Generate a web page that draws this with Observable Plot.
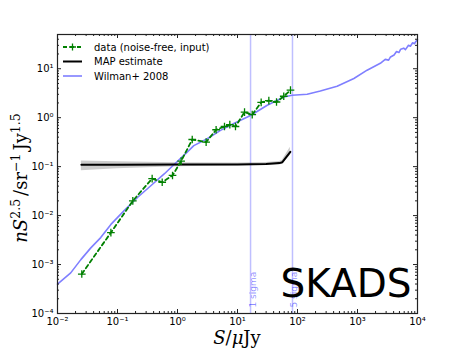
<!DOCTYPE html>
<html><head><meta charset="utf-8">
<script src="https://cdn.jsdelivr.net/npm/d3@7"></script>
<script src="https://cdn.jsdelivr.net/npm/@observablehq/plot@0.6"></script>
<style>body{margin:0;background:#fff} #chart{width:463px;height:348px}</style>
</head><body><div id="chart"></div>
<script>
// ---- data ----
const dataS = [0.0254, 0.0776, 0.18, 0.378, 0.556, 0.826, 1.15, 1.76, 3.0, 4.4, 6.07, 7.45, 9.26, 13.1, 17.6, 24.8, 33.3, 44.7, 59, 76.4];
const dataY = [6.4e-4, 4.5e-3, 0.020, 0.057, 0.048, 0.066, 0.13, 0.358, 0.316, 0.567, 0.66, 0.72, 0.66, 1.30, 1.15, 2.06, 2.23, 2.09, 2.74, 3.64];

const mapS  = [0.025, 0.1, 1, 10, 30, 50, 56, 76];
const mapY  = [0.109, 0.109, 0.110, 0.111, 0.113, 0.118, 0.123, 0.20];
const mapLo = [0.082, 0.091, 0.100, 0.104, 0.105, 0.108, 0.112, 0.17];
const mapHi = [0.131, 0.126, 0.120, 0.118, 0.121, 0.128, 0.135, 0.25];

const wilmanS = [0.01, 0.0166, 0.0245, 0.0359, 0.0525, 0.0776, 0.129, 0.215, 0.359, 0.600, 1.0, 1.38, 1.87, 3.13, 5.21, 8.67, 16.5, 31.3, 59.2, 81.3, 145, 240, 457, 871, 1445, 2400, 2900, 3300, 3550, 4070, 4470, 4900, 5250, 5890, 6300, 7080, 7600, 8300, 8900, 9400, 10000];
const wilmanY = [3.98e-4, 6.76e-4, 1.26e-3, 2.19e-3, 3.55e-3, 6.61e-3, 0.0126, 0.0234, 0.0407, 0.0708, 0.129, 0.186, 0.269, 0.372, 0.550, 0.759, 1.11, 1.79, 2.65, 2.87, 3.01, 3.52, 4.40, 6.31, 9.33, 12.9, 15.5, 15.0, 17.4, 19.1, 22.4, 21.4, 25.1, 26.3, 24.5, 30.2, 28.8, 33.9, 32.4, 36.3, 38.9];

const sigmaS = [16.5, 82.5];
const sigmaLabels = ["1 sigma", "5 sigma"];
const stampText = "SKADS";

const xTicks = [1e-2, 1e-1, 1, 10, 100, 1000, 10000];
const xTickLabels = ["10⁻²", "10⁻¹", "10⁰", "10¹", "10²", "10³", "10⁴"];
const yTicks = [1e-4, 1e-3, 1e-2, 1e-1, 1, 10];
const yTickLabels = ["10⁻⁴", "10⁻³", "10⁻²", "10⁻¹", "10⁰", "10¹"];

const legendLabels = ["data (noise-free, input)", "MAP estimate", "Wilman+ 2008"];

// ---- tables ----
const dataTable = dataS.map((s, i) => ({S: s, y: dataY[i]}));
const mapTable = mapS.map((s, i) => ({S: s, y: mapY[i], lo: mapLo[i], hi: mapHi[i]}));
const wilman = wilmanS.map((s, i) => ({S: s, y: wilmanY[i]}));

const xMinor = [], yMinor = [];
for (const d of xTicks.slice(0, -1)) for (let k = 2; k <= 9; k++) xMinor.push(d * k);
for (const d of yTicks) for (let k = 2; k <= 9; k++) if (d * k < 50) yMinor.push(d * k);

const W = 463, H = 348, mL = 57, mR = 46, mT = 34, mB = 35;
const pw = W - mL - mR, ph = H - mT - mB;
const green = "#008000", blue = "#7f7fff", axisC = "#222";

const plot = Plot.plot({
  width: W, height: H,
  marginLeft: mL, marginRight: mR, marginTop: mT, marginBottom: mB,
  x: {type: "log", domain: [1e-2, 1e4], axis: null},
  y: {type: "log", domain: [1e-4, 50], axis: null},
  style: {fontFamily: "DejaVu Sans", background: "white", overflow: "visible"},
  marks: [
    Plot.areaY(mapTable, {x: "S", y1: "lo", y2: "hi", fill: "#000", fillOpacity: 0.2}),
    Plot.ruleX(sigmaS, {stroke: "#0000ff", strokeOpacity: 0.25, strokeWidth: 1.5}),
    Plot.line(wilman, {x: "S", y: "y", stroke: blue, strokeWidth: 1.6}),
    Plot.line(mapTable, {x: "S", y: "y", stroke: "black", strokeWidth: 2}),
    Plot.line(dataTable, {x: "S", y: "y", stroke: green, strokeWidth: 1.8, strokeDasharray: "4,3"}),
    Plot.dot(dataTable, {x: "S", y: "y", symbol: "plus", r: 2.6, stroke: green, strokeWidth: 1.3}),
    Plot.text(sigmaS, {x: d => d, text: (d, i) => sigmaLabels[i], frameAnchor: "bottom", rotate: -90, textAnchor: "start", dx: 5, dy: -6, fontSize: 9, fill: "#0000ff", fillOpacity: 0.45}),
    Plot.text([stampText], {text: d => d, frameAnchor: "bottom-right", textAnchor: "end", dx: -6, dy: -17, fontSize: 39, fill: "black"}),
    Plot.frame({stroke: axisC, strokeWidth: 1.2}),
    // inward ticks, all sides
    Plot.ruleX(xTicks, {insetTop: ph - 4, stroke: axisC}),
    Plot.ruleX(xTicks, {insetBottom: ph - 4, stroke: axisC}),
    Plot.ruleX(xMinor, {insetTop: ph - 2, stroke: axisC}),
    Plot.ruleX(xMinor, {insetBottom: ph - 2, stroke: axisC}),
    Plot.ruleY(yTicks, {insetRight: pw - 4, stroke: axisC}),
    Plot.ruleY(yTicks, {insetLeft: pw - 4, stroke: axisC}),
    Plot.ruleY(yMinor, {insetRight: pw - 2, stroke: axisC}),
    Plot.ruleY(yMinor, {insetLeft: pw - 2, stroke: axisC}),
    // tick labels
    Plot.text(xTicks, {x: d => d, text: (d, i) => xTickLabels[i], frameAnchor: "bottom", lineAnchor: "top", dy: 4, fontSize: 10, fill: "black"}),
    Plot.text(yTicks, {y: d => d, text: (d, i) => yTickLabels[i], frameAnchor: "left", textAnchor: "end", dx: -4, fontSize: 10, fill: "black"})
  ]
});
document.getElementById("chart").appendChild(plot);

const svg = d3.select(plot);
// y label
const yl = svg.append("text")
  .attr("transform", "translate(27,178) rotate(-90)")
  .attr("text-anchor", "middle")
  .attr("font-family", "DejaVu Serif").attr("font-size", 18).attr("fill", "black");
yl.append("tspan").attr("font-style", "italic").text("nS");
yl.append("tspan").attr("font-size", 12.5).attr("dy", -7).text("2.5");
yl.append("tspan").attr("dy", 7).attr("dx", 3).text("/sr");
yl.append("tspan").attr("font-size", 12.5).attr("dy", -7).text("−1");
yl.append("tspan").attr("dy", 7).attr("dx", 3).text("Jy");
yl.append("tspan").attr("font-size", 12.5).attr("dy", -7).text("1.5");
// x label
const xl = svg.append("text")
  .attr("x", mL + pw / 2).attr("y", 344)
  .attr("text-anchor", "middle")
  .attr("font-family", "DejaVu Serif").attr("font-size", 18).attr("fill", "black");
xl.append("tspan").attr("font-style", "italic").text("S");
xl.append("tspan").text("/");
xl.append("tspan").attr("font-style", "italic").text("μ");
xl.append("tspan").text("Jy");

// legend
const lg = svg.append("g").attr("font-family", "DejaVu Sans").attr("font-size", 10).attr("text-anchor", "start");
const legendStyles = [
  {stroke: green, width: 1.8, dash: "4,3", marker: true},
  {stroke: "black", width: 2, dash: null, marker: false},
  {stroke: blue, width: 1.6, dash: null, marker: false}
];
legendLabels.forEach((lab, i) => {
  const y = 47 + i * 14.5, st = legendStyles[i];
  const ln = lg.append("line").attr("x1", 63).attr("x2", 82).attr("y1", y).attr("y2", y)
    .attr("stroke", st.stroke).attr("stroke-width", st.width);
  if (st.dash) ln.attr("stroke-dasharray", st.dash);
  if (st.marker) {
    lg.append("path").attr("d", `M${72.5 - 3.5},${y}H${72.5 + 3.5}M72.5,${y - 3.5}V${y + 3.5}`)
      .attr("stroke", green).attr("stroke-width", 1.3).attr("fill", "none");
  }
  lg.append("text").attr("x", 94).attr("y", y).attr("dy", "0.35em").attr("fill", "black").attr("text-anchor", "start").text(lab);
});
</script>
</body></html>
